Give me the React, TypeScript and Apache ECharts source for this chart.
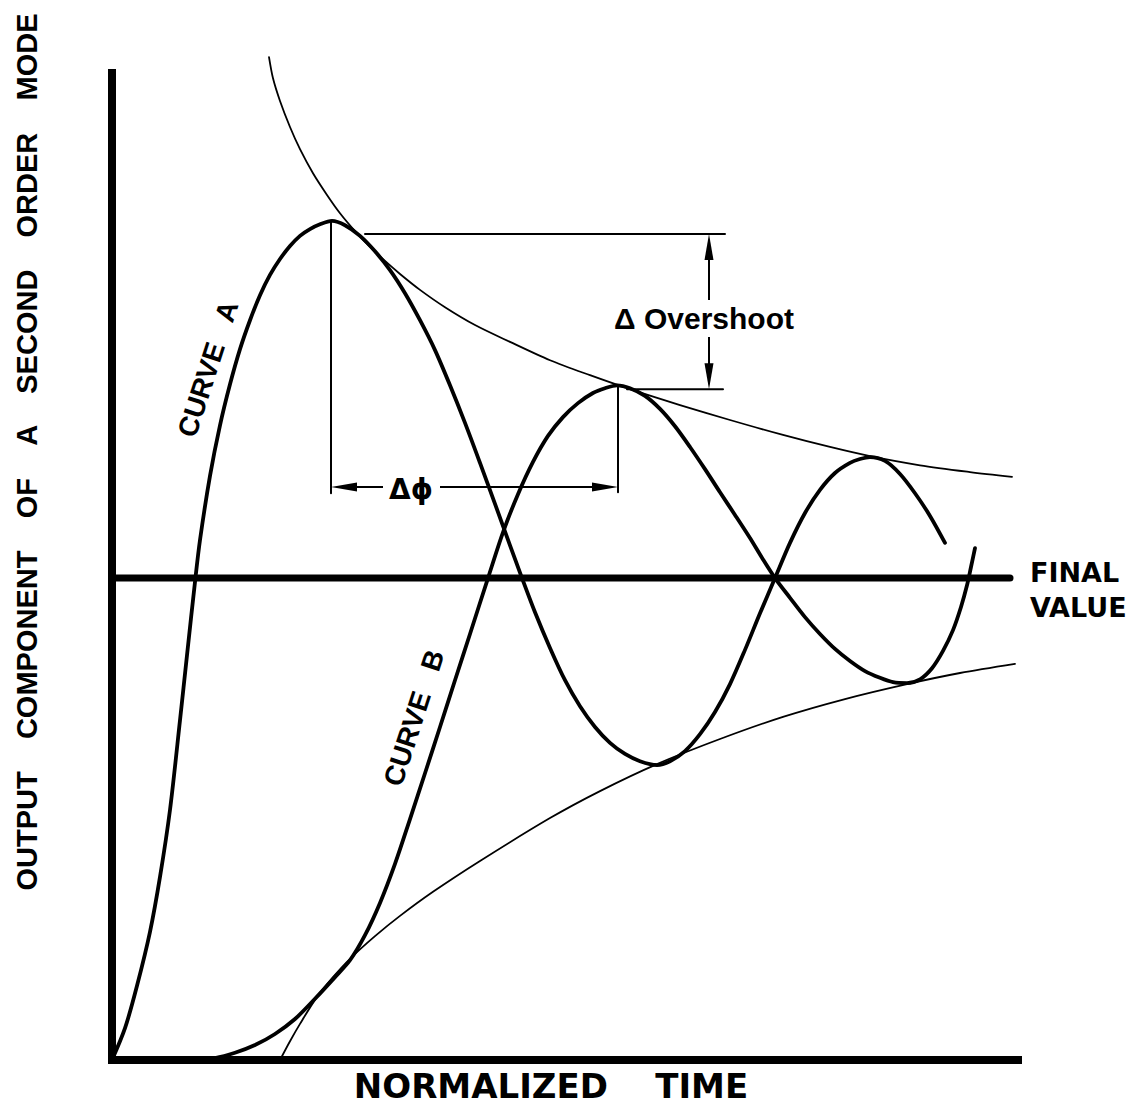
import React, { useEffect, useRef } from "react";
import * as echarts from "echarts";

// Normalized units: x = normalized time, y = output (final value = 1)
const xRange: [number, number] = [0, 9.06];
const yRange: [number, number] = [0, 2.048];

const curveA: [number, number][] = [
  [0.0, 0.0], [0.13, 0.066], [0.25, 0.154], [0.38, 0.266], [0.48, 0.38],
  [0.58, 0.519], [0.68, 0.705], [0.75, 0.84], [0.83, 0.992], [0.88, 1.079],
  [0.98, 1.212], [1.08, 1.317], [1.18, 1.402], [1.28, 1.475], [1.38, 1.535],
  [1.48, 1.587], [1.58, 1.629], [1.68, 1.662], [1.78, 1.689], [1.88, 1.71],
  [1.98, 1.724], [2.08, 1.734], [2.2, 1.741], [2.33, 1.732], [2.48, 1.71],
  [2.63, 1.678], [2.78, 1.639], [2.93, 1.591], [3.08, 1.535], [3.23, 1.473],
  [3.38, 1.4], [3.53, 1.322], [3.68, 1.239], [3.83, 1.154], [3.98, 1.068],
  [4.1, 1.0], [4.23, 0.929], [4.38, 0.855], [4.53, 0.788], [4.68, 0.734],
  [4.83, 0.691], [4.98, 0.658], [5.13, 0.635], [5.28, 0.62], [5.45, 0.612],
  [5.58, 0.62], [5.73, 0.641], [5.88, 0.676], [6.03, 0.722], [6.18, 0.78],
  [6.33, 0.851], [6.48, 0.927], [6.63, 1.0], [6.78, 1.073], [6.93, 1.135],
  [7.08, 1.183], [7.23, 1.218], [7.38, 1.239], [7.48, 1.247], [7.58, 1.251],
  [7.73, 1.243], [7.88, 1.216], [8.03, 1.176], [8.18, 1.129], [8.33, 1.073],
];

const curveB: [number, number][] = [
  [0.83, 0.0], [1.03, 0.004], [1.23, 0.015], [1.43, 0.031], [1.63, 0.054],
  [1.83, 0.085], [2.03, 0.127], [2.23, 0.172], [2.38, 0.207], [2.53, 0.259],
  [2.68, 0.326], [2.83, 0.407], [2.98, 0.5], [3.13, 0.595], [3.28, 0.691],
  [3.43, 0.788], [3.58, 0.884], [3.76, 1.0], [3.91, 1.095], [4.06, 1.174],
  [4.21, 1.241], [4.36, 1.295], [4.51, 1.334], [4.66, 1.363], [4.81, 1.384],
  [4.93, 1.394], [5.05, 1.4], [5.18, 1.394], [5.33, 1.378], [5.48, 1.351],
  [5.63, 1.315], [5.78, 1.272], [5.93, 1.226], [6.08, 1.178], [6.23, 1.131],
  [6.38, 1.083], [6.5, 1.042], [6.63, 1.0], [6.78, 0.959], [6.93, 0.919],
  [7.08, 0.884], [7.23, 0.853], [7.38, 0.828], [7.53, 0.807], [7.68, 0.793],
  [7.81, 0.784], [7.95, 0.782], [8.08, 0.79], [8.2, 0.813], [8.31, 0.849],
  [8.41, 0.892], [8.49, 0.94], [8.55, 0.985], [8.59, 1.023], [8.63, 1.062],
];

const upperEnvelope: [number, number][] = [
  [1.57, 2.081], [1.61, 2.037], [1.68, 1.99], [1.78, 1.936], [1.88, 1.89],
  [2.01, 1.84], [2.15, 1.795], [2.28, 1.757], [2.43, 1.72], [2.58, 1.687],
  [2.73, 1.658], [2.88, 1.631], [3.08, 1.598], [3.33, 1.562], [3.63, 1.525],
  [3.98, 1.49], [4.38, 1.452], [4.78, 1.421], [5.18, 1.392], [5.68, 1.359],
  [6.18, 1.328], [6.71, 1.297], [7.18, 1.272], [7.58, 1.253], [8.08, 1.234],
  [8.58, 1.22], [9.0, 1.21],
];

const lowerEnvelope: [number, number][] = [
  [1.68, 0.0], [1.78, 0.039], [1.88, 0.075], [2.05, 0.131], [2.21, 0.172],
  [2.38, 0.21], [2.63, 0.257], [2.88, 0.299], [3.21, 0.349], [3.68, 0.413],
  [4.38, 0.502], [4.88, 0.558], [5.45, 0.614], [6.08, 0.666], [6.71, 0.712],
  [7.33, 0.749], [7.95, 0.78], [8.48, 0.803], [9.03, 0.822],
];

const finalValue: [number, number][] = [[0, 1], [8.98, 1]];

// Annotation segments
const peakADrop: [number, number][] = [[2.19, 1.741], [2.19, 1.176]];
const peakBDrop: [number, number][] = [[5.06, 1.4], [5.06, 1.178]];
const overshootTopLine: [number, number][] = [[2.53, 1.714], [6.13, 1.714]];
const overshootBottomLine: [number, number][] = [[5.15, 1.392], [6.11, 1.392]];
const phiArrowLeft: [number, number][] = [[2.71, 1.189], [2.32, 1.189]];
const phiArrowRight: [number, number][] = [[3.28, 1.189], [4.93, 1.189]];
const overshootArrowUp: [number, number][] = [[5.97, 1.577], [5.97, 1.687]];
const overshootArrowDown: [number, number][] = [[5.97, 1.5], [5.97, 1.419]];

const yLabelWords = ["OUTPUT", "COMPONENT", "OF", "A", "SECOND", "ORDER", "MODE"];
const xLabelWords = ["NORMALIZED", "TIME"];

const FONT = "'Liberation Sans', Arial, sans-serif";
const WIDE = "'DejaVu Sans', sans-serif";

function lineSeries(data: [number, number][], width: number, extra: any = {}) {
  return {
    type: "line",
    data,
    showSymbol: false,
    symbol: "none",
    silent: true,
    lineStyle: { color: "#000", width, cap: "round", join: "round" },
    ...extra,
  };
}

function arrow(seg: [number, number][]) {
  return [
    { coord: seg[0], symbol: "none" },
    { coord: seg[1], symbol: "triangle", symbolSize: [9, 26] },
  ];
}

export default function App() {
  const ref = useRef<HTMLDivElement>(null);

  useEffect(() => {
    if (!ref.current) return;
    const chart = echarts.init(ref.current, undefined, { renderer: "svg" });
    const gap = " \u00A0\u00A0\u00A0";
    chart.setOption({
      animation: false,
      backgroundColor: "#fff",
      grid: { left: 112, right: 120, top: 73, bottom: 53 },
      xAxis: {
        type: "value",
        min: xRange[0],
        max: xRange[1],
        axisLine: { show: true, lineStyle: { color: "#000", width: 8, cap: "square" } },
        axisTick: { show: false },
        axisLabel: { show: false },
        splitLine: { show: false },
      },
      yAxis: {
        type: "value",
        min: yRange[0],
        max: yRange[1],
        axisLine: { show: true, lineStyle: { color: "#000", width: 8, cap: "square" } },
        axisTick: { show: false },
        axisLabel: { show: false },
        splitLine: { show: false },
      },
      series: [
        lineSeries(finalValue, 7, {
          markLine: {
            silent: true,
            symbol: ["none", "none"],
            label: { show: false },
            lineStyle: { color: "#000", width: 2, type: "solid" },
            itemStyle: { color: "#000" },
            emphasis: { disabled: true },
            data: [
              arrow(phiArrowLeft),
              arrow(phiArrowRight),
              arrow(overshootArrowUp),
              arrow(overshootArrowDown),
            ],
          },
        }),
        lineSeries(upperEnvelope, 1.8, { smooth: 0.3, clip: false }),
        lineSeries(lowerEnvelope, 1.8, { smooth: 0.3 }),
        lineSeries(curveA, 3.8, { smooth: 0.3 }),
        lineSeries(curveB, 3.8, { smooth: 0.3, clip: false }),
        lineSeries(peakADrop, 2),
        lineSeries(peakBDrop, 2),
        lineSeries(overshootTopLine, 2),
        lineSeries(overshootBottomLine, 2),
      ],
      graphic: {
        elements: [
          {
            type: "text",
            x: 27,
            y: 452,
            rotation: Math.PI / 2,
            silent: true,
            style: {
              text: yLabelWords.join(gap),
              font: `bold 29px ${FONT}`,
              fill: "#000",
              textAlign: "center",
              textVerticalAlign: "middle",
            },
          },
          {
            type: "text",
            x: 551,
            y: 1086,
            silent: true,
            style: {
              text: xLabelWords.join(gap),
              font: `bold 34px ${WIDE}`,
              fill: "#000",
              textAlign: "center",
              textVerticalAlign: "middle",
            },
          },
          {
            type: "text",
            x: 1030,
            y: 590,
            silent: true,
            style: {
              text: "FINAL\nVALUE",
              font: `bold 27px ${WIDE}`,
              lineHeight: 35,
              fill: "#000",
              textAlign: "left",
              textVerticalAlign: "middle",
            },
          },
          {
            type: "text",
            x: 704,
            y: 318,
            silent: true,
            style: {
              text: "Δ Overshoot",
              font: `bold 30px ${FONT}`,
              fill: "#000",
              textAlign: "center",
              textVerticalAlign: "middle",
            },
          },
          {
            type: "text",
            x: 411,
            y: 489,
            silent: true,
            style: {
              text: "Δϕ",
              font: `bold 28px ${WIDE}`,
              fill: "#000",
              textAlign: "center",
              textVerticalAlign: "middle",
            },
          },
          {
            type: "text",
            x: 208,
            y: 369,
            rotation: (72 * Math.PI) / 180,
            silent: true,
            style: {
              text: "CURVE \u00A0\u00A0A",
              font: `bold 28px ${FONT}`,
              fill: "#000",
              textAlign: "center",
              textVerticalAlign: "middle",
            },
          },
          {
            type: "text",
            x: 414,
            y: 718,
            rotation: (72 * Math.PI) / 180,
            silent: true,
            style: {
              text: "CURVE \u00A0\u00A0B",
              font: `bold 28px ${FONT}`,
              fill: "#000",
              textAlign: "center",
              textVerticalAlign: "middle",
            },
          },
        ],
      },
    });
    return () => chart.dispose();
  }, []);

  return (
    <div
      ref={ref}
      style={{ position: "absolute", left: 0, top: 0, width: 1138, height: 1113, background: "#fff" }}
    />
  );
}
